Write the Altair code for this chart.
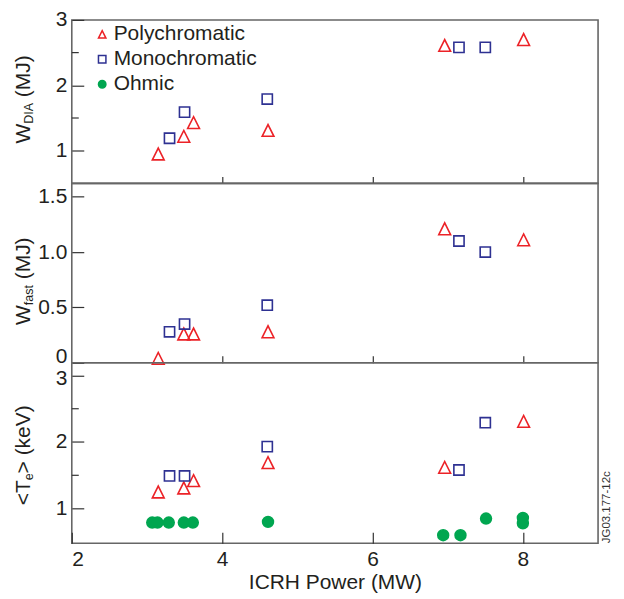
import altair as alt
import pandas as pd

# ---------------- data ----------------
methods = ["Polychromatic", "Monochromatic", "Ohmic"]

poly_power = [3.15, 3.49, 3.62, 4.61, 6.96, 8.01]
poly_wdia = [0.95, 1.22, 1.43, 1.31, 2.61, 2.70]
poly_wfast = [0.04, 0.26, 0.26, 0.28, 1.21, 1.11]
poly_te = [1.25, 1.31, 1.42, 1.69, 1.62, 2.31]

mono_power = [3.30, 3.50, 4.60, 7.15, 7.50]
mono_wdia = [1.19, 1.59, 1.79, 2.58, 2.58]
mono_wfast = [0.28, 0.35, 0.52, 1.10, 1.00]
mono_te = [1.49, 1.49, 1.93, 1.58, 2.29]

ohmic_power = [3.07, 3.14, 3.29, 3.49, 3.61, 4.61, 6.94, 7.17, 7.51, 8.00, 8.00]
ohmic_te = [0.79, 0.79, 0.79, 0.79, 0.79, 0.80, 0.60, 0.60, 0.85, 0.86, 0.78]

x_ticks = [2, 4, 6, 8]
x_inner_ticks = [4, 6, 8]
wdia_ticks = [1, 2, 3]
wdia_minor = [1.5, 2.5]
wfast_ticks = [0, 0.5, 1.0, 1.5]
te_ticks = [1, 2, 3]
te_minor = [1.5, 2.5]

x_title = "ICRH Power (MW)"
fig_id = "JG03.177-12c"

# ---------------- styling ----------------
FONT = "Liberation Sans"
TXT = "#231f20"
RED = "#ec2227"
BLUE = "#2e3192"
GREEN = "#00a650"
TRI = "M-1,1L0,-1L1,1Z"
W = 528
MARK_SIZE = {methods[0]: 140, methods[1]: 105, methods[2]: 118}

ARIAL = {"W": 944, "D": 722, "I": 278, "A": 667, "f": 278, "a": 556, "s": 500,
         "t": 278, " ": 278, "(": 333, ")": 333, "M": 833, "J": 500, "<": 584,
         ">": 584, "T": 611, "e": 556, "k": 500, "V": 667}


def text_width(s, size):
    return sum(ARIAL.get(c, 556) for c in s) / 1000.0 * size


def frame(power, values, method):
    return pd.DataFrame({"power": power, "val": values, "method": method})


LEG = alt.Legend(orient="none", legendX=20, legendY=4, title=None,
                 labelFontSize=21, labelFont=FONT, labelColor=TXT,
                 symbolSize=56, symbolStrokeWidth=1.5, rowPadding=3,
                 labelOffset=1, padding=0)


def ytitle_layers(pieces, base_y):
    layers = []
    y = base_y
    for text, size, shift in pieces:
        w = text_width(text, size)
        if text.strip():
            layers.append(
                alt.Chart(alt.InlineData(values=[{"t": text}]))
                .mark_text(angle=270, align="left", baseline="alphabetic",
                           fontSize=size, font=FONT, color=TXT)
                .encode(x=alt.value(-42 + shift), y=alt.value(y), text="t:N")
            )
        y -= w
    return layers


def panel(frames, ydomain, yticks, yminor, height, pieces, base_y,
          bottom=False, label_expr=None, label_offset=None):
    tick_len = 11 if bottom else 7
    if bottom:
        xaxis = alt.Axis(values=x_ticks, tickSize=tick_len, offset=-tick_len,
                         labelPadding=5, titlePadding=2)
        xenc = alt.X("power:Q", scale=alt.Scale(domain=[2, 9], nice=False),
                     axis=xaxis, title=x_title)
    else:
        xaxis = alt.Axis(values=x_inner_ticks, tickSize=tick_len,
                         offset=-tick_len, labels=False)
        xenc = alt.X("power:Q", scale=alt.Scale(domain=[2, 9], nice=False),
                     axis=xaxis, title=None)
    yaxis_kw = dict(values=yticks, tickSize=12, offset=-12, labelPadding=5,
                    labelExpr=label_expr)
    if label_offset is not None:
        yaxis_kw["labelOffset"] = label_offset
    yenc = alt.Y("val:Q", scale=alt.Scale(domain=ydomain, nice=False, zero=False),
                 axis=alt.Axis(**yaxis_kw), title=None)

    layers = []
    for df in frames:
        m = df["method"].iloc[0]
        layers.append(
            alt.Chart(df).mark_point(strokeWidth=1.6, opacity=1, size=MARK_SIZE[m]).encode(
                x=xenc,
                y=yenc,
                stroke=alt.Stroke("method:N", scale=alt.Scale(domain=methods, range=[RED, BLUE, GREEN]), legend=LEG),
                fill=alt.Fill("method:N", scale=alt.Scale(domain=methods, range=["transparent", "transparent", GREEN]), legend=LEG),
                shape=alt.Shape("method:N", scale=alt.Scale(domain=methods, range=[TRI, "square", "circle"]), legend=LEG),
            )
        )
    if yminor:
        minor = alt.Chart(pd.DataFrame({"m": yminor})).mark_rule(
            color="#333", strokeWidth=1.2).encode(
            y=alt.Y("m:Q"), x=alt.value(0), x2=alt.value(7))
        layers.append(minor)
    layers += ytitle_layers(pieces, base_y)
    if bottom:
        layers.append(
            alt.Chart(alt.InlineData(values=[{"t": fig_id}]))
            .mark_text(angle=270, align="left", baseline="alphabetic",
                       fontSize=11.5, font=FONT, color="#333")
            .encode(x=alt.value(W + 12), y=alt.value(height), text="t:N")
        )
    return alt.layer(*layers).properties(width=W, height=height)


top = panel([frame(poly_power, poly_wdia, methods[0]),
             frame(mono_power, mono_wdia, methods[1])],
            [0.5, 3.0], wdia_ticks, wdia_minor, 164,
            [("W", 21, 0), ("DIA", 12.5, 3), (" ", 21, 0), ("(MJ)", 21, 0)], 124,
            label_expr="format(datum.value, 'd')")
mid = panel([frame(poly_power, poly_wfast, methods[0]),
             frame(mono_power, mono_wfast, methods[1])],
            [0, 1.62], wfast_ticks, None, 180,
            [("W", 21, 0), ("fast", 12.5, 3), (" ", 21, 0), ("(MJ)", 21, 0)], 142,
            label_expr="datum.value == 0 ? '0' : format(datum.value, '.1f')",
            label_offset={"condition": {"test": "datum.value == 0", "value": -6}, "value": 0})
bot = panel([frame(poly_power, poly_te, methods[0]),
             frame(mono_power, mono_te, methods[1]),
             frame(ohmic_power, ohmic_te, methods[2])],
            [0.48, 3.19], te_ticks, te_minor, 181,
            [("<T", 21, 0), ("e", 12.5, 3), ("> ", 21, 0), ("(keV)", 21, 0)], 143,
            bottom=True, label_expr="format(datum.value, 'd')",
            label_offset={"condition": {"test": "datum.value == 3", "value": 3}, "value": 0})

chart = (
    alt.vconcat(top, mid, bot, spacing=0, bounds="flush")
    .resolve_scale(x="independent", y="independent")
    .resolve_axis(x="independent", y="independent")
    .properties(padding={"left": 4, "top": -1, "right": 2, "bottom": 2},
                background="white")
    .configure_view(stroke="#666", strokeWidth=1.6)
    .configure_axis(labelFont=FONT, labelFontSize=21, labelColor=TXT,
                    titleFont=FONT, titleFontSize=21, titleColor=TXT,
                    titleFontWeight="normal", tickColor="#333", tickWidth=1.2,
                    grid=False, domain=False)
    .configure_legend(labelFont=FONT, labelFontSize=21, labelColor=TXT)
)

chart.save("out.html", embed_options={"renderer": "svg", "actions": False})
